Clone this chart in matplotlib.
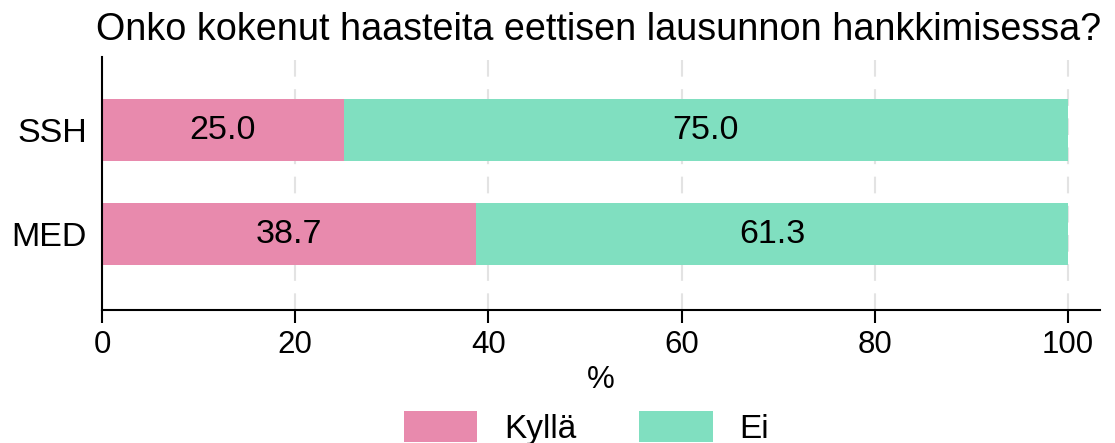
import matplotlib.pyplot as plt

plt.rcParams['font.family'] = ['Liberation Sans', 'DejaVu Sans']

groups = ['MED', 'SSH']
kylla = [38.7, 25.0]
ei = [61.3, 75.0]
labels = ['Kyllä', 'Ei']
colors = ['#E88AAD', '#80DFC0']

fig = plt.figure(figsize=[11.15, 4.43], dpi=100)
ax = fig.add_axes([0.0915, 0.300, 0.895, 0.571])

pos = list(range(len(groups)))
b1 = ax.barh(pos, kylla, height=0.6, color=colors[0], label=labels[0], zorder=2)
b2 = ax.barh(pos, ei, left=kylla, height=0.6, color=colors[1], label=labels[1], zorder=2)

# arvot palkkien keskelle
for vals, lefts in [(kylla, [0] * len(kylla)), (ei, kylla)]:
    for p, v, l in zip(pos, vals, lefts):
        ax.text(l + v / 2, p, '%.1f' % v, ha='center', va='center', size=24.5, zorder=3)

ax.set_xlim(0, 103.3)
ax.set_ylim(-0.73, 1.70)
ax.set_yticks(pos)
ax.set_yticklabels(groups, size=24.5)
ax.set_xticks([0, 20, 40, 60, 80, 100])
ax.tick_params(axis='x', labelsize=22.5, length=9, width=1.5, pad=5)
ax.tick_params(axis='y', length=0, pad=11)
ax.grid(axis='x', color='#E3E3E3', linestyle=(0, (8, 6)), linewidth=1.5, zorder=0)
for s in ['top', 'right']:
    ax.spines[s].set_visible(False)
for s in ['left', 'bottom']:
    ax.spines[s].set_linewidth(1.5)

ax.set_xlabel('%', size=22.5, labelpad=4)
fig.text(0.086, 1 - 40 / 443, 'Onko kokenut haasteita eettisen lausunnon hankkimisessa?',
         size=27.2, ha='left', va='baseline')

fig.legend(handles=[b1, b2], labels=labels, loc='lower center', bbox_to_anchor=(0.526, -0.05),
           ncol=2, frameon=False, fontsize=24, handlelength=2.2, handleheight=1.05,
           columnspacing=1.9, handletextpad=0.8, borderaxespad=0.2)

plt.savefig('out.png', dpi=100)
